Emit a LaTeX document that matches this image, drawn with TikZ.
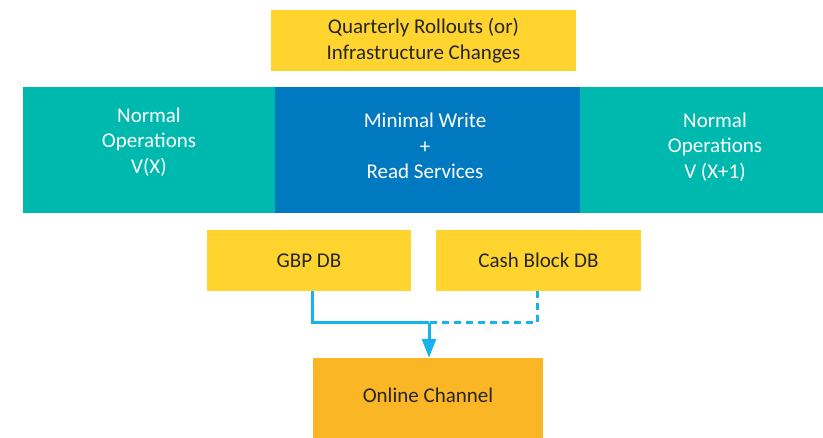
\documentclass[tikz,border=0pt]{standalone}
\usepackage{fontspec}
\setmainfont{Carlito}
\usetikzlibrary{arrows.meta,calc}
\definecolor{boxyellow}{HTML}{FFD42E}
\definecolor{boxorange}{HTML}{FBB626}
\definecolor{bandteal}{HTML}{00B9AE}
\definecolor{bandblue}{HTML}{0079C1}
\definecolor{linkcyan}{HTML}{16B3EC}
\definecolor{darktext}{HTML}{262626}
\begin{document}
\begin{tikzpicture}[x=1pt,y=1pt,
  block/.style={rectangle,draw=none,inner sep=0pt,align=center,
    font=\fontsize{21}{25.6}\selectfont},
  darkblock/.style={block,text=darktext},
  bandtext/.style={block,text=white},
  link/.style={draw=linkcyan,line width=3pt},
  dashlink/.style={link,dash pattern=on 7pt off 5pt},
  arrowlink/.style={link,-{Triangle[length=19pt,width=14pt]}}]
  \useasboundingbox (0,0) rectangle (823,438);
  % top event box
  \node[darkblock,fill=boxyellow,minimum width=305pt,minimum height=61pt]
    (rollout) at (423.5,397.5) {Quarterly Rollouts (or)\\Infrastructure Changes};
  % timeline band
  \node[block,fill=bandteal,minimum width=252pt,minimum height=126pt] (left) at (149,288) {};
  \node[block,fill=bandblue,minimum width=305pt,minimum height=126pt] (mid) at (427.5,288) {};
  \node[block,fill=bandteal,minimum width=243pt,minimum height=126pt] (right) at (701.5,288) {};
  \node[bandtext] (lefttext) at (149,296) {Normal\\Operations\\V(X)};
  \node[bandtext] (midtext) at (425,292) {Minimal Write\\+\\Read Services};
  \node[bandtext] (righttext) at (715,291) {Normal\\Operations\\V (X+1)};
  % databases
  \node[darkblock,fill=boxyellow,minimum width=204pt,minimum height=61pt] (gbp) at (309,177.5) {GBP DB};
  \node[darkblock,fill=boxyellow,minimum width=205pt,minimum height=61pt] (cash) at (538.5,177.5) {Cash Block DB};
  % consumer
  \node[block,fill=boxorange,minimum width=230pt,minimum height=80pt] (online) at (428,40) {};
  \node[darkblock] (onlinetext) at (428,43) {Online Channel};
  % connectors
  \coordinate (join) at (429,115);
  \draw[link] ([xshift=3pt]gbp.south) |- (join);
  \draw[dashlink] ([xshift=-1.5pt]cash.south) |- (join);
  \draw[arrowlink] (join) -- (join |- online.north);
\end{tikzpicture}
\end{document}
